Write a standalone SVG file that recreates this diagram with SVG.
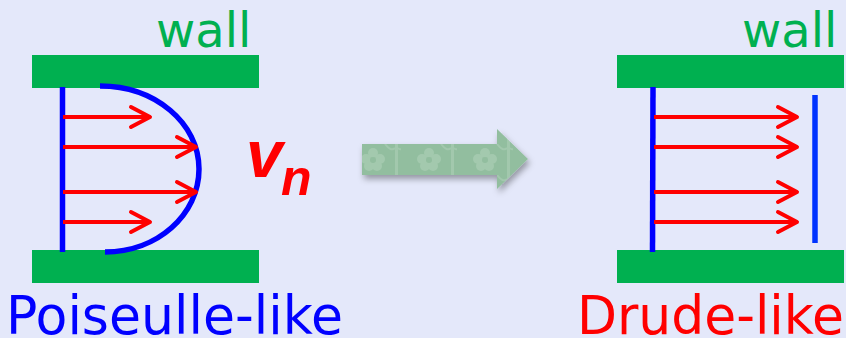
<svg xmlns="http://www.w3.org/2000/svg" width="846" height="338" viewBox="0 0 846 338">
  <style>
    .wall { fill: #00b050; }
    .walltext { font-family: "DejaVu Sans", Verdana, sans-serif; font-size: 48px; fill: #00b050; }
    .label { font-family: "DejaVu Sans", Verdana, sans-serif; font-size: 53px; }
    .blue { stroke: #0000ff; stroke-width: 5.5; fill: none; }
    .vec { stroke: #ff0000; stroke-width: 4; fill: none; }
    .vn { font-family: "Liberation Sans", Arial, sans-serif; font-weight: bold; font-style: italic; fill: #ff0000; }
  </style>
  <defs>
    <marker id="head" markerUnits="userSpaceOnUse" viewBox="-24 -13 28 26" markerWidth="28" markerHeight="26" refX="0" refY="0" orient="auto">
      <path d="M-19,-10 L0,0 L-19,10" fill="none" stroke="#ff0000" stroke-width="4" stroke-linecap="round" stroke-linejoin="round"/>
    </marker>
    <pattern id="flor" patternUnits="userSpaceOnUse" x="345" y="144" width="56" height="31">
      <rect width="56" height="31" fill="#92be9f"/>
      <rect x="50" y="0" width="3" height="31" fill="#a2c8ad"/>
      <path d="M40,0 Q46,8 50,4 M62,0 Q56,8 53,4" stroke="#a2c8ad" stroke-width="2" fill="none"/>
      <g fill="#a3c9ae">
        <circle cx="28" cy="9" r="5"/>
        <circle cx="21" cy="15" r="5"/>
        <circle cx="35" cy="15" r="5"/>
        <circle cx="24" cy="22" r="5"/>
        <circle cx="32" cy="22" r="5"/>
      </g>
      <circle cx="28" cy="16" r="3" fill="#92be9f"/>
    </pattern>
    <filter id="shadow" x="-10%" y="-20%" width="125%" height="160%">
      <feDropShadow dx="2" dy="4" stdDeviation="3" flood-color="#000" flood-opacity="0.35"/>
    </filter>
  </defs>

  <rect width="846" height="338" fill="#e4e8fa"/>

  <g id="poiseuille-panel">
    <rect class="wall" x="32" y="55" width="227" height="33"/>
    <rect class="wall" x="32" y="250" width="227" height="33"/>
    <text class="walltext" x="156" y="47">wall</text>
    <line class="blue" x1="62.5" y1="87" x2="62.5" y2="252"/>
    <path class="blue" d="M100,86 C155,86 199,123 199,169 C199,215 157,252 105,252"/>
    <text class="label" x="6" y="334" fill="#0000ff" textLength="337" lengthAdjust="spacingAndGlyphs">Poiseulle-like</text>
  </g>

  <g id="vn-label">
    <text class="vn" x="246" y="177" font-size="66">v</text>
    <text class="vn" x="281" y="195" font-size="50">n</text>
  </g>

  <g id="transition-arrow" filter="url(#shadow)">
    <path d="M362,144 L497,144 L497,129 L528,159 L497,189 L497,175 L362,175 Z" fill="url(#flor)"/>
  </g>

  <g id="drude-panel">
    <rect class="wall" x="617" y="55" width="227" height="33"/>
    <rect class="wall" x="617" y="250" width="227" height="33"/>
    <text class="walltext" x="742" y="47">wall</text>
    <line class="blue" x1="653" y1="87" x2="652.5" y2="252"/>
    <line x1="815" y1="95" x2="815" y2="243" stroke="#0033ff" stroke-width="5.5"/>
    <text class="label" x="577" y="334" fill="#ff0000" textLength="267" lengthAdjust="spacingAndGlyphs">Drude-like</text>
  </g>

  <g id="connectors">
    <line class="vec" x1="63" y1="117" x2="150" y2="117" marker-end="url(#head)"/>
    <line class="vec" x1="63" y1="147" x2="196" y2="147" marker-end="url(#head)"/>
    <line class="vec" x1="63" y1="192" x2="196" y2="192" marker-end="url(#head)"/>
    <line class="vec" x1="63" y1="222" x2="150" y2="222" marker-end="url(#head)"/>
    <line class="vec" x1="654" y1="117" x2="797" y2="117" marker-end="url(#head)"/>
    <line class="vec" x1="654" y1="147" x2="797" y2="147" marker-end="url(#head)"/>
    <line class="vec" x1="654" y1="192" x2="797" y2="192" marker-end="url(#head)"/>
    <line class="vec" x1="654" y1="222" x2="797" y2="222" marker-end="url(#head)"/>
  </g>
</svg>
